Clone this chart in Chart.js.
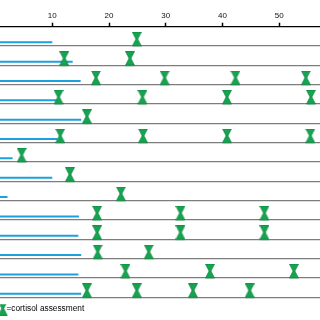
<!DOCTYPE html>
<html><head><meta charset="utf-8">
<script src="https://cdn.jsdelivr.net/npm/chart.js@4.4.1/dist/chart.umd.min.js"></script>
<style>html,body{margin:0;padding:0;background:#fff}canvas{display:block}</style>
</head><body>
<canvas id="c" width="320" height="320"></canvas>
<script>
// ---- data ----
const ROWS = [1,2,3,4,5,6,7,8,9,10,11,12,13,14];
const TREATMENT_END = [10, 13.6, 15, 11.1, 15.1, 10.9, 3, 10, 2.1, 14.7, 14.6, 15.1, 14.6, 15.1];
const ASSESSMENT_DAYS = [
  [24.9],
  [12.1, 23.7],
  [17.7, 29.8, 42.3, 54.7],
  [11.1, 25.9, 40.8, 55.6],
  [16.1],
  [11.4, 26.0, 40.8, 55.5],
  [4.6],
  [13.1],
  [22.1],
  [17.9, 32.6, 47.4],
  [17.9, 32.6, 47.4],
  [18.0, 27.0],
  [22.9, 37.8, 52.6],
  [16.1, 24.9, 34.8, 44.8]
];
const X_TICKS = [10, 20, 30, 40, 50];
const LEGEND_TEXT = '=cortisol assessment';

// ---- styles ----
const BLUE = '#1ba1dd';
const GREEN = '#14a550';
const GREEN_DARK = '#0b7e3b';
const GRAY = '#7d7d7d';
const FONT = 'Liberation Sans, Arial, sans-serif';

function hourglass(cw, ch, cx, top) {
  const c = document.createElement('canvas');
  c.width = cw; c.height = ch;
  const g = c.getContext('2d');
  const w = 9, h = 14;
  const l = cx - w / 2, r = cx + w / 2, mid = top + h / 2, bot = top + h;
  g.beginPath();
  g.moveTo(l, top); g.lineTo(r, top); g.lineTo(cx + 0.9, mid);
  g.lineTo(r, bot); g.lineTo(l, bot); g.lineTo(cx - 0.9, mid);
  g.closePath();
  g.fillStyle = GREEN; g.fill();
  g.lineWidth = 0.7; g.strokeStyle = GREEN_DARK; g.stroke();
  return c;
}
// marker sits on top of the row line: draw in the upper half of a double-height canvas
const markerImg = hourglass(10, 28, 5, 0);
const legendImg = hourglass(14, 14, 8.6, 0);

const BLUE_LIFT = 0.19; // blue bar sits slightly above the row line

const datasets = [];
ROWS.forEach((row, i) => {
  datasets.push({
    type: 'line',
    label: 'treatment ' + row,
    data: [{x: 0, y: row - BLUE_LIFT}, {x: TREATMENT_END[i], y: row - BLUE_LIFT}],
    borderColor: BLUE, borderWidth: 2, pointRadius: 0, fill: false,
    borderCapStyle: 'butt', order: 2
  });
});
const markerData = [];
ROWS.forEach((row, i) => ASSESSMENT_DAYS[i].forEach(d => markerData.push({x: d, y: row})));
datasets.push({
  type: 'scatter',
  label: LEGEND_TEXT,
  data: markerData,
  pointStyle: markerImg,
  showLine: false,
  order: 1,
  clip: false
});

new Chart(document.getElementById('c'), {
  type: 'scatter',
  data: { datasets },
  options: {
    responsive: false,
    animation: false,
    devicePixelRatio: 1,
    layout: { autoPadding: false, padding: { left: 0, right: 0, top: 0, bottom: -2.65 } },
    plugins: {
      tooltip: { enabled: false },
      legend: {
        display: true,
        position: 'bottom',
        align: 'start',
        labels: {
          usePointStyle: true,
          pointStyleWidth: 2.35,
          padding: 0,
          color: '#1a1a1a',
          font: { family: FONT, size: 8.3 },
          generateLabels: (chart) => [{
            text: LEGEND_TEXT,
            pointStyle: legendImg,
            fillStyle: GREEN,
            strokeStyle: GREEN,
            lineWidth: 0,
            hidden: false,
            datasetIndex: chart.data.datasets.length - 1
          }]
        }
      }
    },
    scales: {
      x: {
        type: 'linear',
        position: 'top',
        min: 0.78,
        max: 57.2,
        afterBuildTicks: (s) => { s.ticks = X_TICKS.map(v => ({value: v})); },
        afterFit: (s) => { s.height = 26.7; },
        border: { display: true, color: '#000', width: 1.3 },
        grid: { drawOnChartArea: false, drawTicks: true, tickLength: 4, tickWidth: 1.5, tickColor: '#000' },
        ticks: { color: '#111', font: { family: FONT, size: 8 }, padding: 2.2, maxRotation: 0, autoSkip: false }
      },
      y: {
        type: 'linear',
        position: 'left',
        reverse: true,
        min: 0,
        max: 14.36,
        afterBuildTicks: (s) => { s.ticks = ROWS.map(v => ({value: v})); },
        afterFit: (s) => { s.width = 0; },
        border: { display: false },
        grid: { color: GRAY, lineWidth: 1.3, drawTicks: false },
        ticks: { display: false }
      }
    }
  }
});
</script>
</body></html>
